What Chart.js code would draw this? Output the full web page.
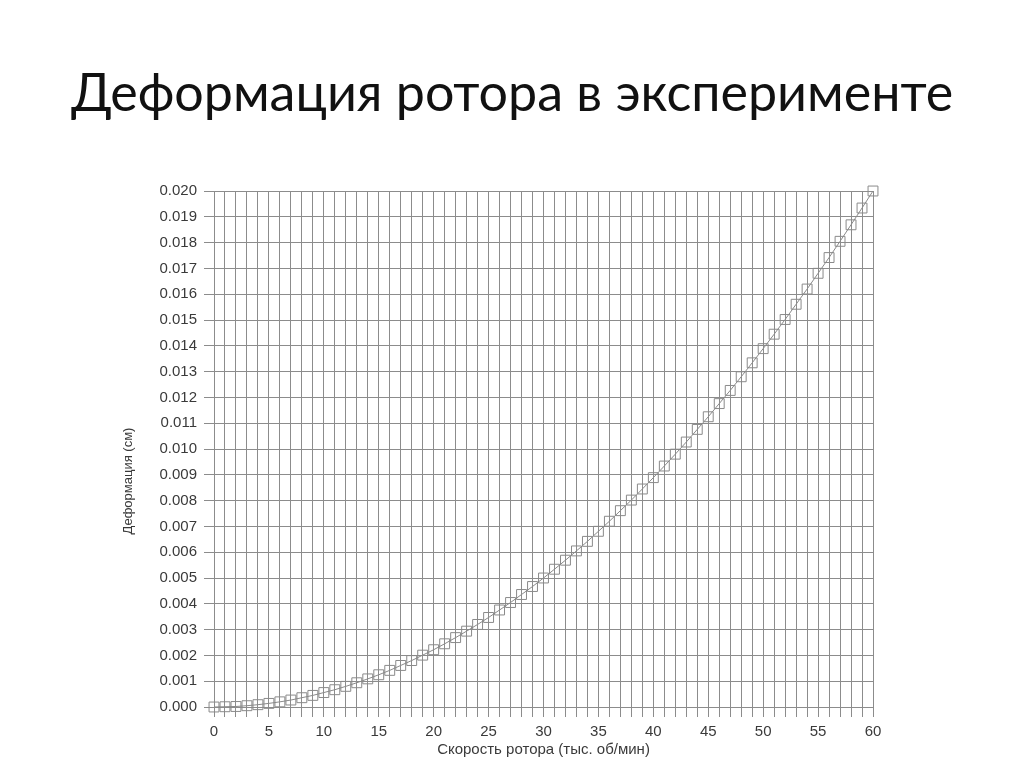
<!DOCTYPE html>
<html>
<head>
<meta charset="utf-8">
<script src="https://cdn.jsdelivr.net/npm/chart.js@4/dist/chart.umd.min.js"></script>
<style>
  html, body { margin: 0; padding: 0; background: #fff; }
  #wrap { position: relative; width: 1024px; height: 767px; }
  #title {
    position: absolute; left: 0; top: 59px; width: 1024px;
    text-align: center; font-family: Lato, "Noto Sans", sans-serif;
    font-size: 52px; line-height: 64px; color: #111; z-index: 2;
  }
  canvas { position: absolute; left: 0; top: 0; }
</style>
</head>
<body>
<div id="wrap">
  <div id="title">Деформация ротора в эксперименте</div>
  <canvas id="rotorChart" width="1024" height="767"></canvas>
</div>
<script>
// rotor speed, thousand rpm
const speeds = [
  0, 1, 2, 3, 4, 5, 6, 7, 8, 9,
  10, 11, 12, 13, 14, 15, 16, 17, 18, 19,
  20, 21, 22, 23, 24, 25, 26, 27, 28, 29,
  30, 31, 32, 33, 34, 35, 36, 37, 38, 39,
  40, 41, 42, 43, 44, 45, 46, 47, 48, 49,
  50, 51, 52, 53, 54, 55, 56, 57, 58, 59, 60
];
// deformation, cm
const deformation = [
  0.00000, 0.00001, 0.00002, 0.00005, 0.00009, 0.00014, 0.00020, 0.00027, 0.00036, 0.00045,
  0.00056, 0.00067, 0.00080, 0.00094, 0.00109, 0.00125, 0.00142, 0.00161, 0.00180, 0.00201,
  0.00222, 0.00245, 0.00269, 0.00294, 0.00320, 0.00347, 0.00376, 0.00405, 0.00436, 0.00467,
  0.00500, 0.00534, 0.00569, 0.00605, 0.00642, 0.00681, 0.00720, 0.00761, 0.00802, 0.00845,
  0.00889, 0.00934, 0.00980, 0.01027, 0.01076, 0.01125, 0.01176, 0.01227, 0.01280, 0.01334,
  0.01389, 0.01445, 0.01502, 0.01561, 0.01620, 0.01681, 0.01742, 0.01805, 0.01869, 0.01934, 0.02000
];
const xLabelStep = 5;
const yTitle = 'Деформация (см)';
const xTitle = 'Скорость ротора (тыс. об/мин)';

const points = speeds.map((s, i) => ({ x: s, y: deformation[i] }));
const gridColor = '#8c8c8c';
const textColor = '#3a3a3a';

// y title sits a bit lower than the axis centre in the original
const yTitlePlugin = {
  id: 'yTitle',
  afterDraw(c) {
    const g = c.ctx;
    g.save();
    g.translate(128, 481);
    g.rotate(-Math.PI / 2);
    g.font = '13px "Liberation Sans"';
    g.fillStyle = textColor;
    g.textAlign = 'center';
    g.textBaseline = 'middle';
    g.fillText(yTitle, 0, 0);
    g.restore();
  }
};

const ctx = document.getElementById('rotorChart').getContext('2d');
const chart = new Chart(ctx, {
  type: 'scatter',
  data: {
    datasets: [{
      data: points,
      showLine: true,
      clip: false,
      borderColor: '#8a8a8a',
      borderWidth: 1,
      pointStyle: 'rect',
      pointRadius: 7,
      pointBorderColor: '#8a8a8a',
      pointBorderWidth: 1,
      pointBackgroundColor: 'rgba(0,0,0,0)',
      tension: 0
    }]
  },
  options: {
    responsive: false,
    animation: false,
    layout: { padding: { left: 110, right: 151, top: 191, bottom: 0 } },
    plugins: { legend: { display: false }, tooltip: { enabled: false } },
    scales: {
      x: {
        type: 'linear',
        min: 0,
        max: 60,
        afterFit: scale => { scale.height = 60; },
        ticks: {
          stepSize: 1,
          autoSkip: false,
          maxRotation: 0,
          color: textColor,
          font: { family: 'Liberation Sans', size: 15 },
          padding: 6,
          callback: v => (v % xLabelStep === 0 ? String(v) : '')
        },
        grid: { color: gridColor, tickLength: 10 },
        border: { color: gridColor },
        title: {
          display: true,
          text: xTitle,
          color: textColor,
          font: { family: 'Liberation Sans', size: 15 },
          padding: { top: 0, bottom: 8 }
        }
      },
      y: {
        min: 0,
        max: 0.02,
        afterFit: scale => { scale.width = 104; },
        ticks: {
          stepSize: 0.001,
          autoSkip: false,
          color: textColor,
          font: { family: 'Liberation Sans', size: 15 },
          padding: 7,
          callback: v => v.toFixed(3)
        },
        grid: { color: gridColor, tickLength: 10 },
        border: { color: gridColor }
      }
    }
  },
  plugins: [yTitlePlugin]
});
</script>
</body>
</html>
